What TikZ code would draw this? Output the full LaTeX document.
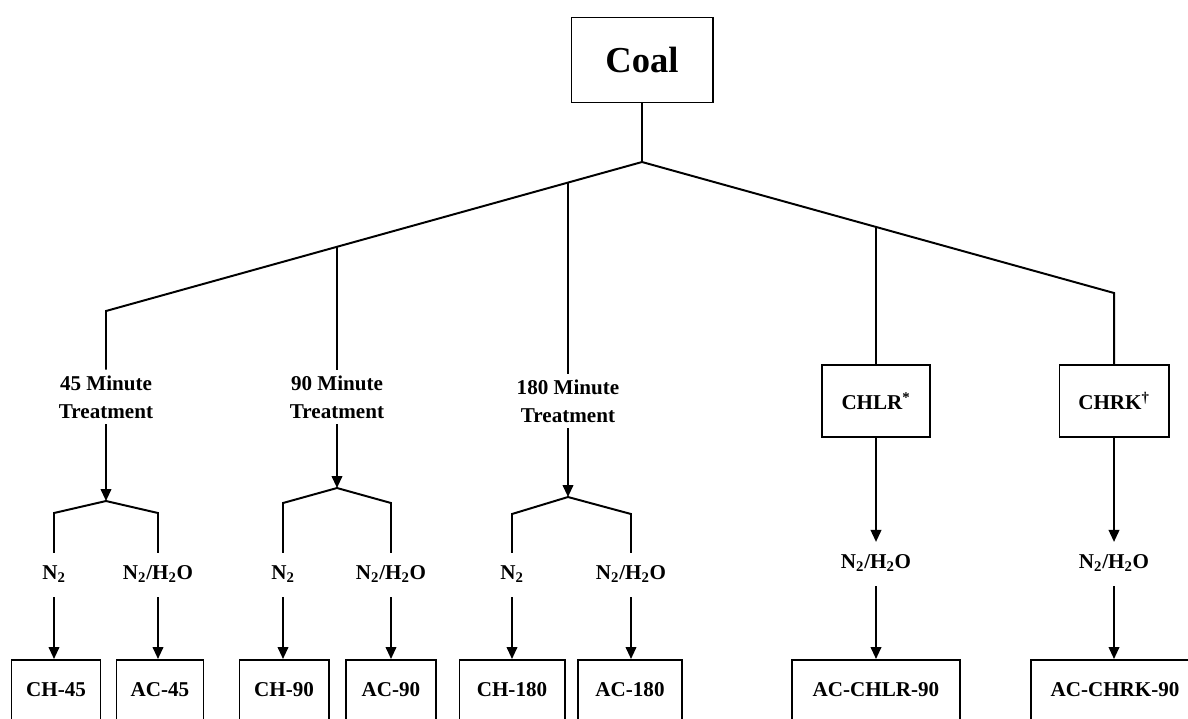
\documentclass[tikz,border=0pt]{standalone}
\usepackage{fontspec}
\setmainfont{Liberation Serif}
\usepackage{tikz}
\usetikzlibrary{arrows.meta,calc,positioning}

\tikzset{
  txt/.style={font=\fontsize{15}{20}\selectfont\bfseries},
  box/.style={txt, draw, line width=1.4pt, inner sep=0pt},
  lab/.style={txt, inner xsep=2pt, inner ysep=9pt, text height=10pt, text depth=3pt},
  treat/.style={txt, align=center, inner sep=4pt},
  link/.style={line width=1.4pt},
  flow/.style={link, -{Triangle[length=8.5pt,width=7.5pt]}}
}

\begin{document}
\begin{tikzpicture}[x=0.025cm, y=-0.025cm]
\useasboundingbox (0,0) rectangle (1188,718);
\clip (0,0) rectangle (1188,718);

% top
\node[box, minimum width=3.525cm, minimum height=2.125cm, font=\fontsize{26}{30}\selectfont\bfseries] (coal) at (642,60) {Coal};
\coordinate (J) at (642,162);
\coordinate (k45) at (106,311);
\coordinate (kR) at (1114,293);
\coordinate (b90) at ($(J)!{(642-337)/(642-106)}!(k45)$);
\coordinate (b180) at ($(J)!{(642-568)/(642-106)}!(k45)$);
\coordinate (bL) at ($(J)!{(876-642)/(1114-642)}!(kR)$);

% treatments
\node[treat] (t45) at (106,397) {45 Minute\\Treatment};
\node[treat] (t90) at (337,397) {90 Minute\\Treatment};
\node[treat] (t180) at (568,401) {180 Minute\\Treatment};
\node[box, minimum width=2.7cm, minimum height=1.8cm] (chlr) at (876,401) {CHLR\textsuperscript{*}};
\node[box, minimum width=2.725cm, minimum height=1.8cm] (chrk) at (1114,401) {CHRK\textsuperscript{\textdagger}};

\draw[link] (coal.south) -- (J);
\draw[link] (t45.north) -- (k45) -- (J) -- (kR) -- (chrk.north);
\draw[link] (b90) -- (b90 |- t90.north);
\draw[link] (b180) -- (b180 |- t180.north);
\draw[link] (bL) -- (bL |- chlr.north);

% forks
\coordinate (p45) at (106,501);
\coordinate (p90) at (337,488);
\coordinate (p180) at (568,497);
\draw[flow] (t45.south) -- (p45);
\draw[flow] (t90.south) -- (p90);
\draw[flow] (t180.south) -- (p180);

\node[lab] (n45a) at (54,575) {N\textsubscript{2}};
\node[lab] (n45b) at (158,575) {N\textsubscript{2}/H\textsubscript{2}O};
\node[lab] (n90a) at (283,575) {N\textsubscript{2}};
\node[lab] (n90b) at (391,575) {N\textsubscript{2}/H\textsubscript{2}O};
\node[lab] (n180a) at (512,575) {N\textsubscript{2}};
\node[lab] (n180b) at (631,575) {N\textsubscript{2}/H\textsubscript{2}O};
\node[lab] (nlr) at (876,564) {N\textsubscript{2}/H\textsubscript{2}O};
\node[lab] (nrk) at (1114,564) {N\textsubscript{2}/H\textsubscript{2}O};

\draw[link] (n45a.north) -- (n45a.north |- 0,513) -- (p45) -- (n45b.north |- 0,513) -- (n45b.north);
\draw[link] (n90a.north) -- (n90a.north |- 0,503) -- (p90) -- (n90b.north |- 0,503) -- (n90b.north);
\draw[link] (n180a.north) -- (n180a.north |- 0,514) -- (p180) -- (n180b.north |- 0,514) -- (n180b.north);
\draw[flow] (chlr.south) -- (nlr.north);
\draw[flow] (chrk.south) -- (nrk.north);

% products
\node[box, minimum width=2.225cm, minimum height=1.5cm] (ch45) at (56,690) {CH-45};
\node[box, minimum width=2.175cm, minimum height=1.5cm] (ac45) at (160,690) {AC-45};
\node[box, minimum width=2.225cm, minimum height=1.5cm] (ch90) at (284,690) {CH-90};
\node[box, minimum width=2.25cm, minimum height=1.5cm] (ac90) at (391,690) {AC-90};
\node[box, minimum width=2.625cm, minimum height=1.5cm] (ch180) at (512,690) {CH-180};
\node[box, minimum width=2.6cm, minimum height=1.5cm] (ac180) at (630,690) {AC-180};
\node[box, minimum width=4.2cm, minimum height=1.5cm] (aclr) at (876,690) {AC-CHLR-90};
\node[box, minimum width=4.2cm, minimum height=1.5cm] (acrk) at (1115,690) {AC-CHRK-90};

\draw[flow] (n45a.south) -- (n45a.south |- ch45.north);
\draw[flow] (n45b.south) -- (n45b.south |- ac45.north);
\draw[flow] (n90a.south) -- (n90a.south |- ch90.north);
\draw[flow] (n90b.south) -- (n90b.south |- ac90.north);
\draw[flow] (n180a.south) -- (n180a.south |- ch180.north);
\draw[flow] (n180b.south) -- (n180b.south |- ac180.north);
\draw[flow] (nlr.south) -- (aclr.north);
\draw[flow] (nrk.south) -- (nrk.south |- acrk.north);
\end{tikzpicture}
\end{document}
